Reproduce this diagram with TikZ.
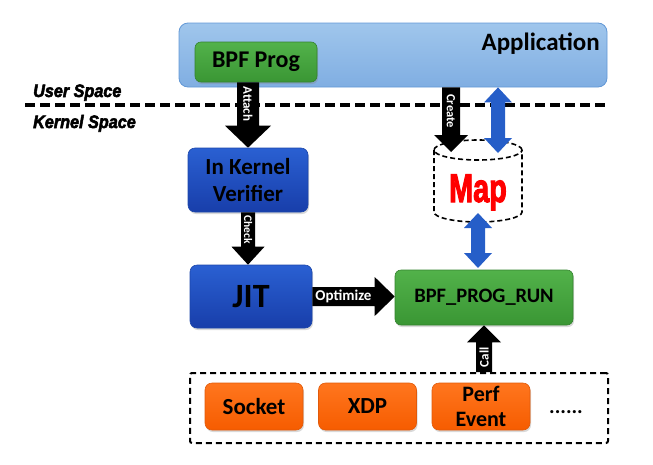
\documentclass[tikz,border=0pt]{standalone}
\usepackage{fontspec}
\setmainfont{Carlito}
\newfontfamily\arialish{Liberation Sans}[BoldFeatures={FakeBold=3}, BoldItalicFeatures={FakeBold=3}]
\usetikzlibrary{calc,shadows}

\definecolor{apptop}{RGB}{160,198,236}
\definecolor{appbot}{RGB}{128,174,226}
\definecolor{appline}{RGB}{98,152,214}
\definecolor{grntop}{RGB}{82,178,74}
\definecolor{grnbot}{RGB}{58,150,52}
\definecolor{grnline}{RGB}{52,130,46}
\definecolor{blutop}{RGB}{42,96,210}
\definecolor{blubot}{RGB}{24,62,170}
\definecolor{bluline}{RGB}{28,70,170}
\definecolor{orgtop}{RGB}{255,118,30}
\definecolor{orgbot}{RGB}{246,92,0}
\definecolor{orgline}{RGB}{225,90,10}
\definecolor{dblue}{RGB}{38,94,200}
\definecolor{mapred}{RGB}{255,0,0}

% block arrow: style, from, to, half shaft, half head, head length, rotation, label
\newcommand\blkarrow[8]{%
  \coordinate (tmpH) at ($(#3)!#6!(#2)$);
  \fill[#1] ($(#2)!#4!90:(#3)$) -- ($(tmpH)!#4!90:(#3)$) -- ($(tmpH)!#5!90:(#3)$)
    -- (#3) -- ($(tmpH)!#5!-90:(#3)$) -- ($(tmpH)!#4!-90:(#3)$) -- ($(#2)!#4!-90:(#3)$) -- cycle;
  \node[lbl, rotate=#7] at ($(#2)!0.5!(tmpH)$) {#8};
}
% double block arrow: style, from, to, half shaft, half head, head length
\newcommand\dblarrow[6]{%
  \coordinate (tmpH) at ($(#3)!#6!(#2)$);
  \coordinate (tmpG) at ($(#2)!#6!(#3)$);
  \fill[#1] (#2) -- ($(tmpG)!#5!90:(#3)$) -- ($(tmpG)!#4!90:(#3)$) -- ($(tmpH)!#4!90:(#3)$)
    -- ($(tmpH)!#5!90:(#3)$) -- (#3) -- ($(tmpH)!#5!-90:(#3)$) -- ($(tmpH)!#4!-90:(#3)$)
    -- ($(tmpG)!#4!-90:(#3)$) -- ($(tmpG)!#5!-90:(#3)$) -- cycle;
}

\tikzset{
  shd/.style={drop shadow={shadow xshift=1pt,shadow yshift=-2pt,opacity=0.3}},
  appbox/.style={draw=appline, line width=0.8pt, top color=apptop, bottom color=appbot, rounded corners=9pt, inner sep=0pt},
  greenbox/.style={draw=grnline, line width=0.6pt, top color=grntop, bottom color=grnbot, rounded corners=6pt, inner sep=0pt, shd, font=\bfseries\fontsize{24}{25}\selectfont, align=center},
  bluebox/.style={draw=bluline, line width=0.6pt, top color=blutop, bottom color=blubot, rounded corners=7pt, inner sep=0pt, shd, font=\bfseries\fontsize{23}{27}\selectfont, align=center},
  orgbox/.style={draw=orgline, line width=0.6pt, top color=orgtop, bottom color=orgbot, rounded corners=7pt, inner sep=0pt, shd, font=\bfseries\fontsize{23}{25}\selectfont, align=center, minimum width=98, minimum height=47},
  lbl/.style={text=white, inner sep=0pt, font=\bfseries\fontsize{13}{13}\selectfont},
  sepline/.style={line width=3.5pt, dash pattern=on 10pt off 5pt},
  cyl/.style={line width=1.6pt, dash pattern=on 5pt off 3pt},
  dbox/.style={line width=2pt, dash pattern=on 6pt off 4pt, rounded corners=2pt},
  spacelbl/.style={inner sep=0pt, xscale=0.9, font=\arialish\bfseries\itshape\fontsize{18}{18}\selectfont}
}

\begin{document}
\begin{tikzpicture}[x=1pt,y=-1pt]
\useasboundingbox (0,0) rectangle (653,464);

% application
\node[appbox, minimum width=428, minimum height=64] (app) at (393,55) {};
\node[anchor=base east, inner sep=0pt, font=\bfseries\fontsize{25}{25}\selectfont] (apptxt) at (600,50) {Application};
\node[greenbox, minimum width=122, minimum height=40] (bpf) at (256,62) {BPF Prog};

% user / kernel separator
\coordinate (sepL) at (25,105);
\coordinate (sepR) at (607,105);
\draw[sepline] (sepL) -- (sepR);
\node[spacelbl, anchor=base west] (us) at (33,97) {User Space};
\node[spacelbl, anchor=base west] (ks) at (33,128) {Kernel Space};

% kernel nodes
\node[bluebox, minimum width=120, minimum height=64] (ver) at (248,180) {In Kernel\\Verifier};
\node[bluebox, minimum width=122, minimum height=63, font=\bfseries\fontsize{34}{34}\selectfont] (jit) at (251,296.5) {JIT};
\node[greenbox, minimum width=178, minimum height=55, font=\bfseries\fontsize{20.5}{20.5}\selectfont] (run) at (484,297.5) {BPF\_PROG\_RUN};

% map cylinder
\fill[white] (434,150) -- (434,212) arc[start angle=180,end angle=360,x radius=44pt,y radius=10pt] -- (522,150) -- cycle;
\draw[cyl] (478,150) ellipse [x radius=44pt, y radius=10pt];
\draw[cyl] (434,150) -- (434,212) arc[start angle=180,end angle=360,x radius=44pt,y radius=10pt] -- (522,150);
\node[anchor=base, inner sep=0pt, text=mapred, xscale=0.72, font=\arialish\bfseries\fontsize{40}{40}\selectfont] (map) at (478,202) {Map};

% hook box
\node[draw, dbox, minimum width=418, minimum height=70, inner sep=0pt] (hooks) at (399,408) {};
\node[orgbox] (sock) at (254,406.5) {Socket};
\node[orgbox] (xdp) at (367.5,406.5) {XDP};
\node[orgbox, font=\bfseries\fontsize{22}{25}\selectfont] (perf) at (481,406.5) {Perf\\Event};
\node[anchor=base, inner sep=0pt, font=\bfseries\fontsize{21}{21}\selectfont] (dots) at (566,413) {......};

% arrows
\coordinate (attA) at (bpf.south -| ver.north);
\blkarrow{black}{attA}{ver.north}{11pt}{23pt}{22pt}{-90}{Attach}
\coordinate (chkB) at (ver.south |- jit.north);
\blkarrow{black}{ver.south}{chkB}{7pt}{16.5pt}{18pt}{-90}{\fontsize{11.5}{11.5}\selectfont Check}
\coordinate (optB) at (jit.east -| run.west);
\blkarrow{black}{jit.east}{optB}{9.5pt}{19.5pt}{20pt}{0}{\fontsize{15}{15}\selectfont Optimize}
\coordinate (crA) at ($(app.south)+(58,0)$);
\coordinate (crB) at (451,152);
\blkarrow{black}{crA}{crB}{9pt}{17pt}{17pt}{-90}{\fontsize{12.5}{12.5}\selectfont Create}
\coordinate (callA) at (run.south |- hooks.north);
\blkarrow{black}{callA}{run.south}{8pt}{17pt}{17pt}{90}{\fontsize{13}{13}\selectfont Call}

\coordinate (dA) at ($(app.south)+(105,0)$);
\coordinate (dB) at (498,153);
\dblarrow{dblue}{dA}{dB}{7pt}{14pt}{15pt}
\coordinate (eA) at (478,213);
\coordinate (eB) at (478,268);
\dblarrow{dblue}{eA}{eB}{7pt}{14pt}{15pt}
\end{tikzpicture}
\end{document}
